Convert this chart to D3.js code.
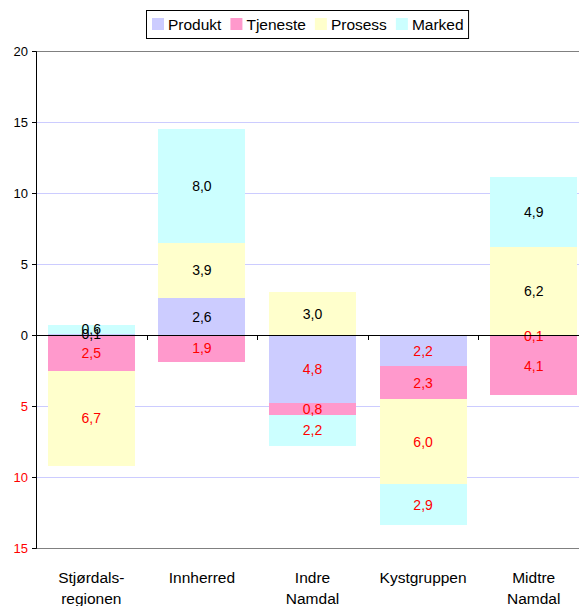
<!DOCTYPE html>
<html><head><meta charset="utf-8">
<script src="https://cdn.jsdelivr.net/npm/d3@7"></script>
<style>body{margin:0;background:#fff;}svg{display:block;font-family:"Liberation Sans",Arial,sans-serif;}</style>
</head><body>
<svg id="c" width="579" height="606"></svg>
<script>
const categories = [["Stjørdals-","regionen"],["Innherred"],["Indre","Namdal"],["Kystgruppen"],["Midtre","Namdal"]];
const series = ["Produkt","Tjeneste","Prosess","Marked"];
const colors = ["#ccccff","#ff99cc","#ffffcc","#ccffff"];
const produkt  = [0.1, 2.6, -4.8, -2.2, -0.1];
const tjeneste = [-2.5, -1.9, -0.8, -2.3, -4.1];
const prosess  = [-6.7, 3.9, 3.0, -6.0, 6.2];
const marked   = [0.6, 8.0, -2.2, -2.9, 4.9];
const yTicks = [-15,-10,-5,0,5,10,15,20];

(function(){
const svg = d3.select("#c");
const pLeft = 36, pRight = 589, pTop = 51, pBottom = 548;
const keys = categories.map(c => c.join(" "));
const rows = keys.map((k,i) => ({key:k, Produkt:produkt[i], Tjeneste:tjeneste[i], Prosess:prosess[i], Marked:marked[i]}));

const x = d3.scaleBand().domain(keys).range([pLeft,pRight]).paddingInner(0.213).paddingOuter(0.1065);
const y = d3.scaleLinear().domain([-15,20]).range([pBottom,pTop]);

// gridlines
svg.append("g").selectAll("line").data(yTicks.filter(t=>t!==0&&t!==20&&t!==-15)).join("line")
  .attr("x1",pLeft).attr("x2",579).attr("y1",d=>y(d)).attr("y2",d=>y(d))
  .attr("stroke","#ccccff").attr("stroke-width",1).attr("shape-rendering","crispEdges");
svg.append("g").selectAll("line").data([20,-15]).join("line")
  .attr("x1",pLeft).attr("x2",579).attr("y1",d=>y(d)).attr("y2",d=>y(d))
  .attr("stroke","#808080").attr("stroke-width",1).attr("shape-rendering","crispEdges");

const stack = d3.stack().keys(series).offset(d3.stackOffsetDiverging);
const stacked = stack(rows);

const g = svg.append("g");
stacked.forEach((s,si) => {
  g.append("g").selectAll("rect").data(s).join("rect")
    .attr("x",d=>x(d.data.key)).attr("width",x.bandwidth())
    .attr("y",d=>y(Math.max(d[0],d[1]))).attr("height",d=>Math.abs(y(d[0])-y(d[1])))
    .attr("fill",colors[si]).attr("shape-rendering","crispEdges");
});
stacked.forEach((s,si) => {
  g.append("g").selectAll("text").data(s.filter(d=>d.data[s.key]!==0)).join("text")
    .attr("x",d=>x(d.data.key)+x.bandwidth()/2)
    .attr("y",d=>y((d[0]+d[1])/2)+5)
    .attr("text-anchor","middle").attr("font-size","14px")
    .attr("fill",d=>d.data[s.key]<0?"#ff0000":"#000")
    .text(d=>d3.format(".1f")(Math.abs(d.data[s.key])).replace(".",","));
});

// zero axis
svg.append("line").attr("x1",pLeft).attr("x2",579).attr("y1",y(0)).attr("y2",y(0))
  .attr("stroke","#000").attr("shape-rendering","crispEdges");
svg.append("g").selectAll("line").data(keys.slice(1)).join("line")
  .attr("x1",d=>Math.round(x(d)-x.step()*0.1065)+0.5).attr("x2",d=>Math.round(x(d)-x.step()*0.1065)+0.5)
  .attr("y1",y(0)).attr("y2",y(0)+5).attr("stroke","#000");

// y axis
const ya = svg.append("g").attr("transform",`translate(${pLeft},0)`)
  .call(d3.axisLeft(y).tickValues(yTicks).tickSize(4).tickPadding(4).tickFormat(d=>Math.abs(d)));
ya.select(".domain").attr("stroke","#000");
ya.selectAll(".tick line").attr("stroke","#000");
ya.selectAll(".tick text").attr("font-size","13px").attr("font-family","Liberation Sans, Arial, sans-serif")
  .attr("fill",d=>d<0?"#ff0000":"#000");

// x labels
svg.append("g").selectAll("text").data(categories).join("text")
  .attr("x",(d,i)=>x(keys[i])+x.bandwidth()/2).attr("y",583)
  .attr("text-anchor","middle").attr("font-size","15.5px").attr("fill","#000")
  .each(function(d){
    d3.select(this).selectAll("tspan").data(d).join("tspan")
      .attr("x",d3.select(this).attr("x")).attr("dy",(t,j)=>j?21:0).text(t=>t);
  });

// legend
const lg = svg.append("g");
const box = lg.append("rect").attr("x",146.5).attr("y",10.5).attr("height",28).attr("fill","#fff").attr("stroke","#000");
let lx = 152;
series.forEach((s,i)=>{
  lg.append("rect").attr("x",lx).attr("y",18).attr("width",12).attr("height",12).attr("fill",colors[i]);
  const t = lg.append("text").attr("x",lx+16).attr("y",30).attr("font-size","15.5px").attr("fill","#000").text(s);
  lx += 16 + t.node().getComputedTextLength() + 9;
});
box.attr("width", lx - 146.5 - 4);
})();
</script>
</body></html>
